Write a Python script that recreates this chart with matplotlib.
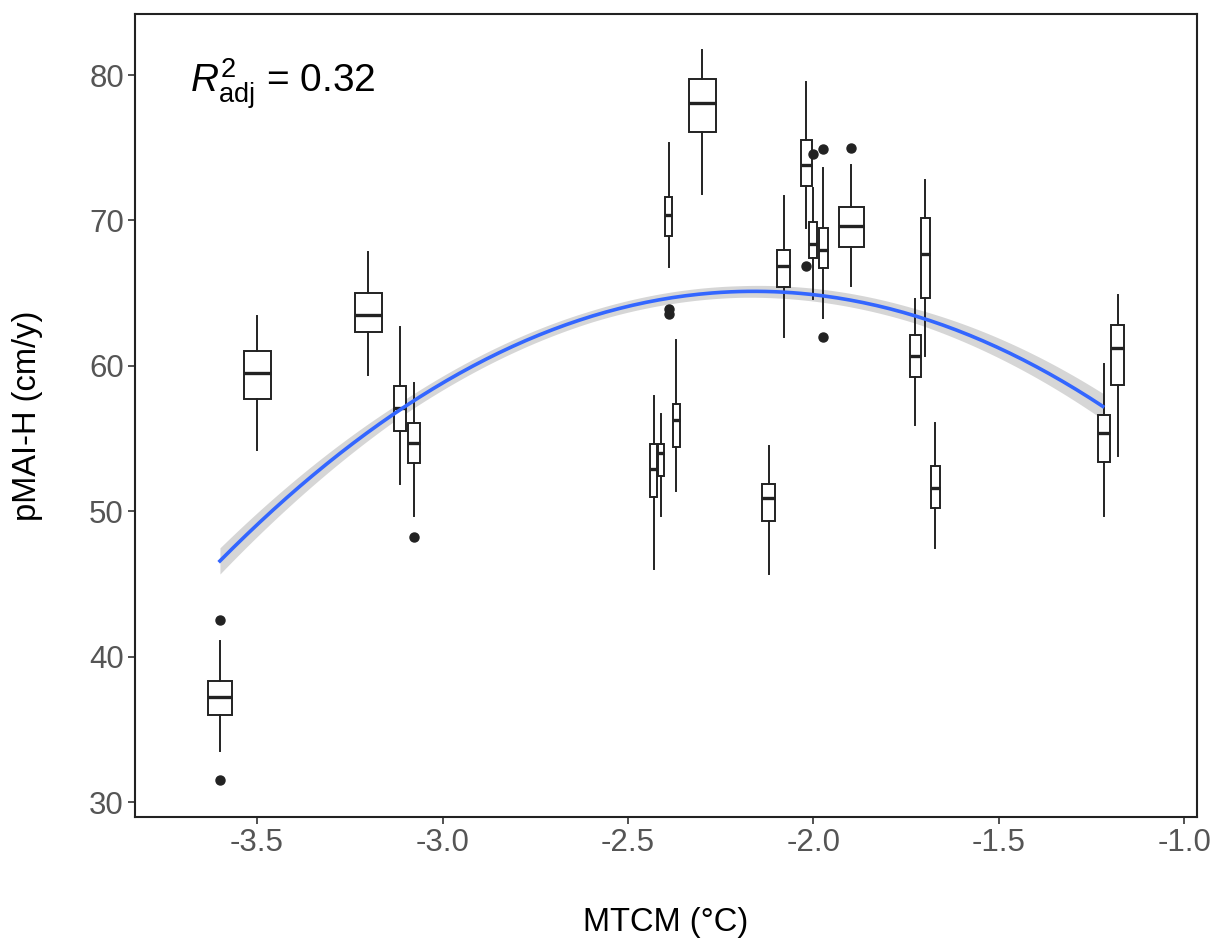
import numpy as np
import matplotlib
matplotlib.use("Agg")
import matplotlib.pyplot as plt

plt.rcParams['font.family'] = ['Liberation Sans', 'DejaVu Sans']
plt.rcParams['mathtext.fontset'] = 'custom'
plt.rcParams['mathtext.rm'] = 'Liberation Sans'
plt.rcParams['mathtext.it'] = 'Liberation Sans:italic'

# Box positions (MTCM, °C)
positions = [-3.60, -3.50, -3.20, -3.115, -3.078, -2.30, -2.39, -2.43, -2.41, -2.37,
             -2.12, -2.08, -2.02, -2.00, -1.974, -1.898, -1.725, -1.699, -1.672, -1.217, -1.179]
whislo = [33.5, 54.2, 59.4, 51.9, 49.7, 71.8, 66.8, 46.0, 49.7, 51.4,
          45.7, 62.0, 69.5, 64.6, 63.3, 65.5, 55.9, 60.7, 47.5, 49.7, 53.8]
q1 = [36.0, 57.7, 62.3, 55.5, 53.3, 76.1, 68.9, 51.0, 52.4, 54.4,
      49.3, 65.4, 72.4, 67.4, 66.7, 68.2, 59.2, 64.7, 50.2, 53.4, 58.7]
med = [37.2, 59.5, 63.5, 57.1, 54.7, 78.1, 70.4, 52.9, 54.0, 56.3,
       50.9, 66.9, 73.8, 68.4, 68.0, 69.6, 60.7, 67.7, 51.6, 55.4, 61.2]
q3 = [38.3, 61.0, 65.0, 58.6, 56.1, 79.7, 71.6, 54.6, 54.6, 57.4,
      51.9, 68.0, 75.5, 69.9, 69.5, 70.9, 62.1, 70.2, 53.1, 56.6, 62.8]
whishi = [41.1, 63.4, 67.8, 62.7, 58.8, 81.7, 75.3, 57.9, 56.7, 61.8,
          54.5, 71.7, 79.5, 72.2, 73.6, 73.8, 64.6, 72.8, 56.1, 60.1, 64.9]
fliers = [[42.55, 31.5], [], [], [], [48.2], [], [63.6, 63.9], [], [], [],
          [], [], [66.9], [74.6], [74.9, 62.0], [75.0], [], [], [], [], []]
box_px = [24, 27, 27, 12, 12, 27, 7, 7, 6, 7, 13, 13, 11, 8, 9, 25, 11, 9, 9, 12, 13]

# Quadratic fit curve
curve_x = [-3.60, -3.115, -2.60, -2.20, -1.725, -1.22]
curve_y = [46.6, 57.0, 63.3, 65.0, 63.7, 57.1]
band_half = [0.9, 0.5, 0.4, 0.4, 0.5, 0.9]

W, H = 1221, 943
fig = plt.figure(figsize=(W / 100, H / 100), dpi=100)
L, R, T, B = 135, 1197, 14, 817
ax = fig.add_axes([L / W, 1 - B / H, (R - L) / W, (B - T) / H])

xlim = (-3.829, -0.966)
ylim = (28.97, 84.2)
units_per_px = (xlim[1] - xlim[0]) / (R - L)

# smooth + band
coef = np.polyfit(curve_x, curve_y, 2)
xs = np.linspace(curve_x[0], curve_x[-1], 200)
ys = np.polyval(coef, xs)
hw = np.interp(xs, curve_x, band_half)
ax.fill_between(xs, ys - hw, ys + hw, color='#999999', alpha=0.4, lw=0, zorder=1)

stats = []
for i in range(len(positions)):
    stats.append(dict(med=med[i], q1=q1[i], q3=q3[i], whislo=whislo[i], whishi=whishi[i],
                      fliers=fliers[i]))
widths = [w * units_per_px for w in box_px]
ax.bxp(stats, positions=positions, widths=widths, showcaps=False, patch_artist=True,
       boxprops=dict(facecolor='white', edgecolor='#222222', linewidth=1.4),
       whiskerprops=dict(color='#222222', linewidth=1.4),
       medianprops=dict(color='#222222', linewidth=2.4),
       flierprops=dict(marker='o', markerfacecolor='#222222', markeredgecolor='#222222',
                       markersize=6.5),
       manage_ticks=False, zorder=2)

ax.plot(xs, ys, color='#3366FF', lw=2.6, zorder=3)

ax.set_xlim(*xlim)
ax.set_ylim(*ylim)
ax.set_xticks([-3.5, -3.0, -2.5, -2.0, -1.5, -1.0])
ax.set_xticklabels(['-3.5', '-3.0', '-2.5', '-2.0', '-1.5', '-1.0'])
ax.set_yticks([30, 40, 50, 60, 70, 80])
ax.tick_params(axis='both', labelsize=22.5, colors='#333333', labelcolor='#555555',
               length=5, width=1.2, pad=3)
for s in ax.spines.values():
    s.set_linewidth(1.5)
    s.set_color('#222222')

ax.set_xlabel('MTCM (°C)', fontsize=23.5, va='center', ha='center')
ax.xaxis.set_label_coords(0.5, (B - 922) / (B - T))
ax.set_ylabel('pMAI-H (cm/y)', fontsize=23.5, va='center', ha='center')
ax.yaxis.set_label_coords((28 - L) / (R - L), 0.5)

ax.text(0.052, 0.913, r'$R^2_{\mathrm{adj}}$ = 0.32', transform=ax.transAxes,
        fontsize=28, va='center', ha='left')

fig.savefig('out.png', dpi=100)
